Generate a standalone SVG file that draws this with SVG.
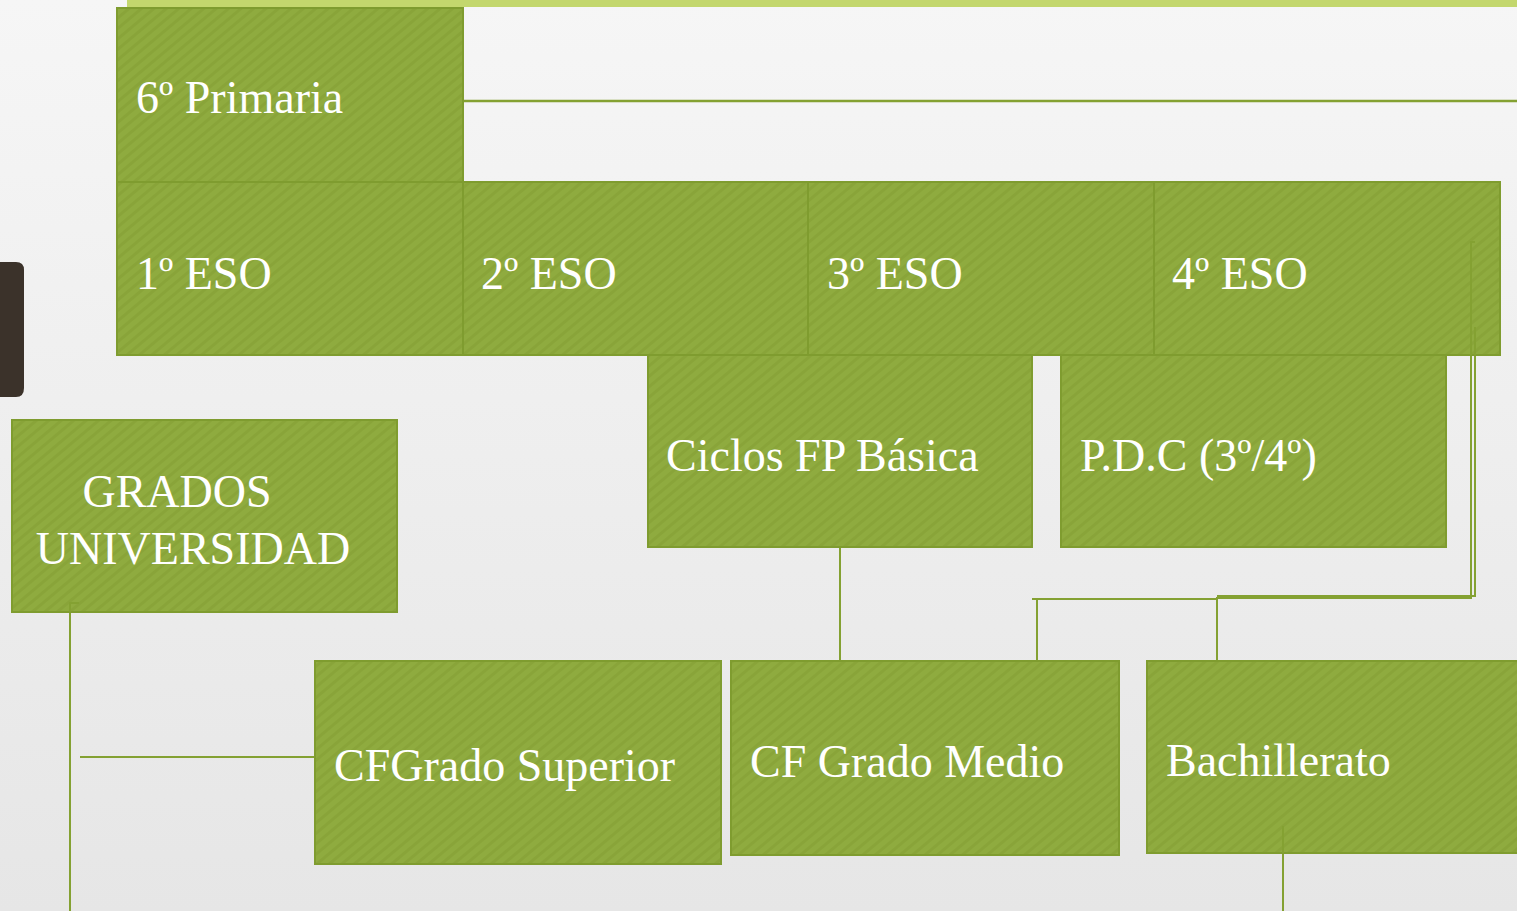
<svg xmlns="http://www.w3.org/2000/svg" width="1517" height="911" viewBox="0 0 1517 911">
<defs>
<linearGradient id="bg" x1="0" y1="0" x2="0" y2="1">
<stop offset="0" stop-color="#f6f6f6"/>
<stop offset="1" stop-color="#e6e6e6"/>
</linearGradient>
<pattern id="hatch" width="8" height="8" patternUnits="userSpaceOnUse" patternTransform="rotate(-40)">
<rect width="8" height="8" fill="#8fab3f"/>
<rect width="8" height="3" fill="#87a337" opacity="0.8"/>
</pattern>
<style>
.box{fill:url(#hatch);stroke:#7f9c2f;stroke-width:2}
.lbl{font-family:"Liberation Serif","DejaVu Serif",serif;font-size:46px;fill:#ffffff}
.ln{stroke:#84a132;stroke-width:2.5;fill:none}
.ln2{stroke:#84a132;stroke-width:2;fill:none}
</style>
</defs>
<rect width="1517" height="911" fill="url(#bg)"/>
<rect x="127" y="0" width="1390" height="7" fill="#c3d76d"/>
<path d="M0 262 H16 Q24 262 24 270 V388 Q24 397 16 397 H0 Z" fill="#3b322a"/>

<g id="connectors">
<line class="ln" x1="463" y1="101" x2="1517" y2="101"/>
<path class="ln2" d="M1475 242 H1471 V598 H1217"/>
<path class="ln2" d="M1475 327 V596 H1217"/>
<path class="ln2" d="M1032 599 H1217"/>
<line class="ln2" x1="1037" y1="599" x2="1037" y2="670"/>
<line class="ln2" x1="1217" y1="597" x2="1217" y2="670"/>
<line class="ln2" x1="840" y1="547" x2="840" y2="661"/>
<path class="ln2" d="M79 603 H70 V911"/>
<line class="ln2" x1="80" y1="757" x2="315" y2="757"/>
<line class="ln2" x1="1283" y1="826" x2="1283" y2="911"/>
</g>

<g id="n-6primaria"><rect class="box" x="117" y="8" width="346" height="174"/><text class="lbl" x="136" y="113">6º Primaria</text></g>
<g id="n-1eso"><rect class="box" x="117" y="182" width="346" height="173"/><text class="lbl" x="136" y="289">1º ESO</text></g>
<g id="n-2eso"><rect class="box" x="463" y="182" width="345" height="173"/><text class="lbl" x="481" y="289">2º ESO</text></g>
<g id="n-3eso"><rect class="box" x="808" y="182" width="346" height="173"/><text class="lbl" x="827" y="289">3º ESO</text></g>
<g id="n-4eso"><rect class="box" x="1154" y="182" width="346" height="173"/><text class="lbl" x="1172" y="289">4º ESO</text></g>
<g id="n-fpbasica"><rect class="box" x="648" y="355" width="384" height="192"/><text class="lbl" x="666" y="471">Ciclos FP Básica</text></g>
<g id="n-pdc"><rect class="box" x="1061" y="355" width="385" height="192"/><text class="lbl" x="1080" y="471">P.D.C (3º/4º)</text></g>
<g id="n-grados"><rect class="box" x="12" y="420" width="385" height="192"/><text class="lbl" x="177" y="507" text-anchor="middle">GRADOS</text><text class="lbl" x="193" y="564" text-anchor="middle">UNIVERSIDAD</text></g>
<g id="n-cfgs"><rect class="box" x="315" y="661" width="406" height="203"/><text class="lbl" x="334" y="781">CFGrado Superior</text></g>
<g id="n-cfgm"><rect class="box" x="731" y="661" width="388" height="194"/><text class="lbl" x="750" y="777">CF Grado Medio</text></g>
<g id="n-bach"><rect class="box" x="1147" y="661" width="380" height="192"/><text class="lbl" x="1166" y="776">Bachillerato</text></g>
<g id="connector-overlays">
<line class="ln2" x1="1283" y1="826" x2="1283" y2="853"/>
<path class="ln2" d="M1475 242 H1471 V355"/>
<line class="ln2" x1="1475" y1="327" x2="1475" y2="355"/>
<path class="ln2" d="M79 603 H70 V612"/>
</g>
</svg>
